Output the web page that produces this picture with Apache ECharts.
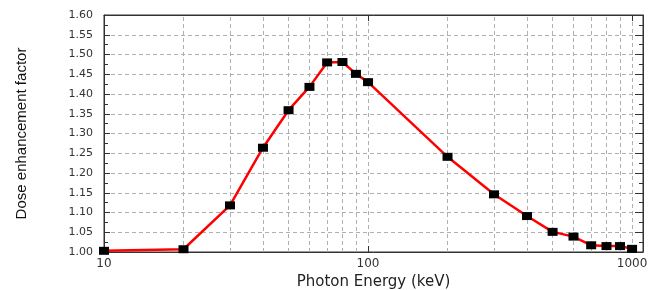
<!DOCTYPE html>
<html>
	<head>
		<meta charset="UTF-8">
		<title>Dose enhancement factor</title>
		<script type="text/javascript" src="https://cdn.jsdelivr.net/npm/echarts@6/dist/echarts.min.js"></script>
		<style>
			body { margin:0; background:#fff; }
		</style>
	</head>
	<body>
		<div id="chart" style="width:650px;height:290px;"></div>
	</body>
</html>
<script type="text/javascript">
// photon energies (keV) and dose enhancement factor
var energy = [10, 20, 30, 40, 50, 60, 70, 80, 90, 100, 200, 300, 400, 500, 600, 700, 800, 900, 1000];
var def = [1.003, 1.007, 1.118, 1.264, 1.359, 1.418, 1.480, 1.481, 1.451, 1.430, 1.241, 1.146, 1.091, 1.051, 1.039, 1.017, 1.015, 1.015, 1.008];
// minor log grid lines
var minorGrid = [20, 30, 40, 50, 60, 70, 80, 90, 200, 300, 400, 500, 600, 700, 800, 900];

var points = [];
for (var i = 0; i < energy.length; i++) {
	points.push([energy[i], def[i]]);
}
var gridLines = [];
for (var j = 0; j < minorGrid.length; j++) {
	gridLines.push({ xAxis: minorGrid[j] });
}

var dash = { color: '#b0b0b0', type: [4, 3], width: 1 };
var axisCol = '#333';

var myChart = echarts.init(document.getElementById('chart'));
var option = {
	animation: false,
	grid: {
		left: 104, right: 7, top: 15, bottom: 38,
		outerBoundsMode: 'none', containLabel: false,
		show: true, borderColor: axisCol, borderWidth: 1
	},
	xAxis: [{
		type: 'log', logBase: 10, min: 10, max: 1100,
		name: 'Photon Energy (keV)', nameLocation: 'middle', nameGap: 20,
		nameTextStyle: { fontFamily: 'DejaVu Sans', fontSize: 15, color: '#222' },
		axisLine: { lineStyle: { color: axisCol } },
		axisTick: { inside: true, length: 6, lineStyle: { color: axisCol } },
		axisLabel: {
			showMaxLabel: false, margin: 6, fontFamily: 'DejaVu Sans', fontSize: 12, color: '#333',
			formatter: function (v) { return String(Math.round(v)); }
		},
		splitLine: { show: true, lineStyle: dash }
	}, {
		type: 'log', logBase: 10, min: 10, max: 1100, position: 'top',
		axisLine: { lineStyle: { color: axisCol } },
		axisTick: { inside: true, length: 6, lineStyle: { color: axisCol } },
		axisLabel: { show: false },
		splitLine: { show: false }
	}],
	yAxis: [{
		type: 'value', min: 1, max: 1.6, interval: 0.05,
		name: 'Dose enhancement factor', nameLocation: 'middle', nameGap: 75,
		nameTextStyle: { fontFamily: "'Liberation Sans Narrow', 'Liberation Sans'", fontSize: 15, color: '#111' },
		axisLine: { show: true, lineStyle: { color: axisCol } },
		axisTick: { inside: true, length: 6, lineStyle: { color: axisCol } },
		minorTick: { show: true, splitNumber: 2, length: 4, lineStyle: { color: axisCol } },
		axisLabel: {
			margin: 11, fontFamily: 'DejaVu Sans', fontSize: 11, color: '#333',
			formatter: function (v) { return v.toFixed(2); }
		},
		splitLine: { show: true, lineStyle: dash }
	}, {
		type: 'value', min: 1, max: 1.6, interval: 0.05, position: 'right',
		axisLine: { show: true, lineStyle: { color: axisCol } },
		axisTick: { inside: true, length: 8, lineStyle: { color: axisCol } },
		minorTick: { show: true, splitNumber: 2, length: 4, lineStyle: { color: axisCol } },
		axisLabel: { show: false },
		splitLine: { show: false }
	}],
	series: [{
		type: 'line',
		data: points,
		symbol: 'rect',
		symbolSize: [10, 8],
		itemStyle: { color: '#000' },
		lineStyle: { color: '#ff0000', width: 2.5 },
		z: 5,
		markLine: {
			silent: true,
			symbol: 'none',
			label: { show: false },
			lineStyle: dash,
			animation: false,
			data: gridLines
		}
	}]
};
myChart.setOption(option);
</script>
